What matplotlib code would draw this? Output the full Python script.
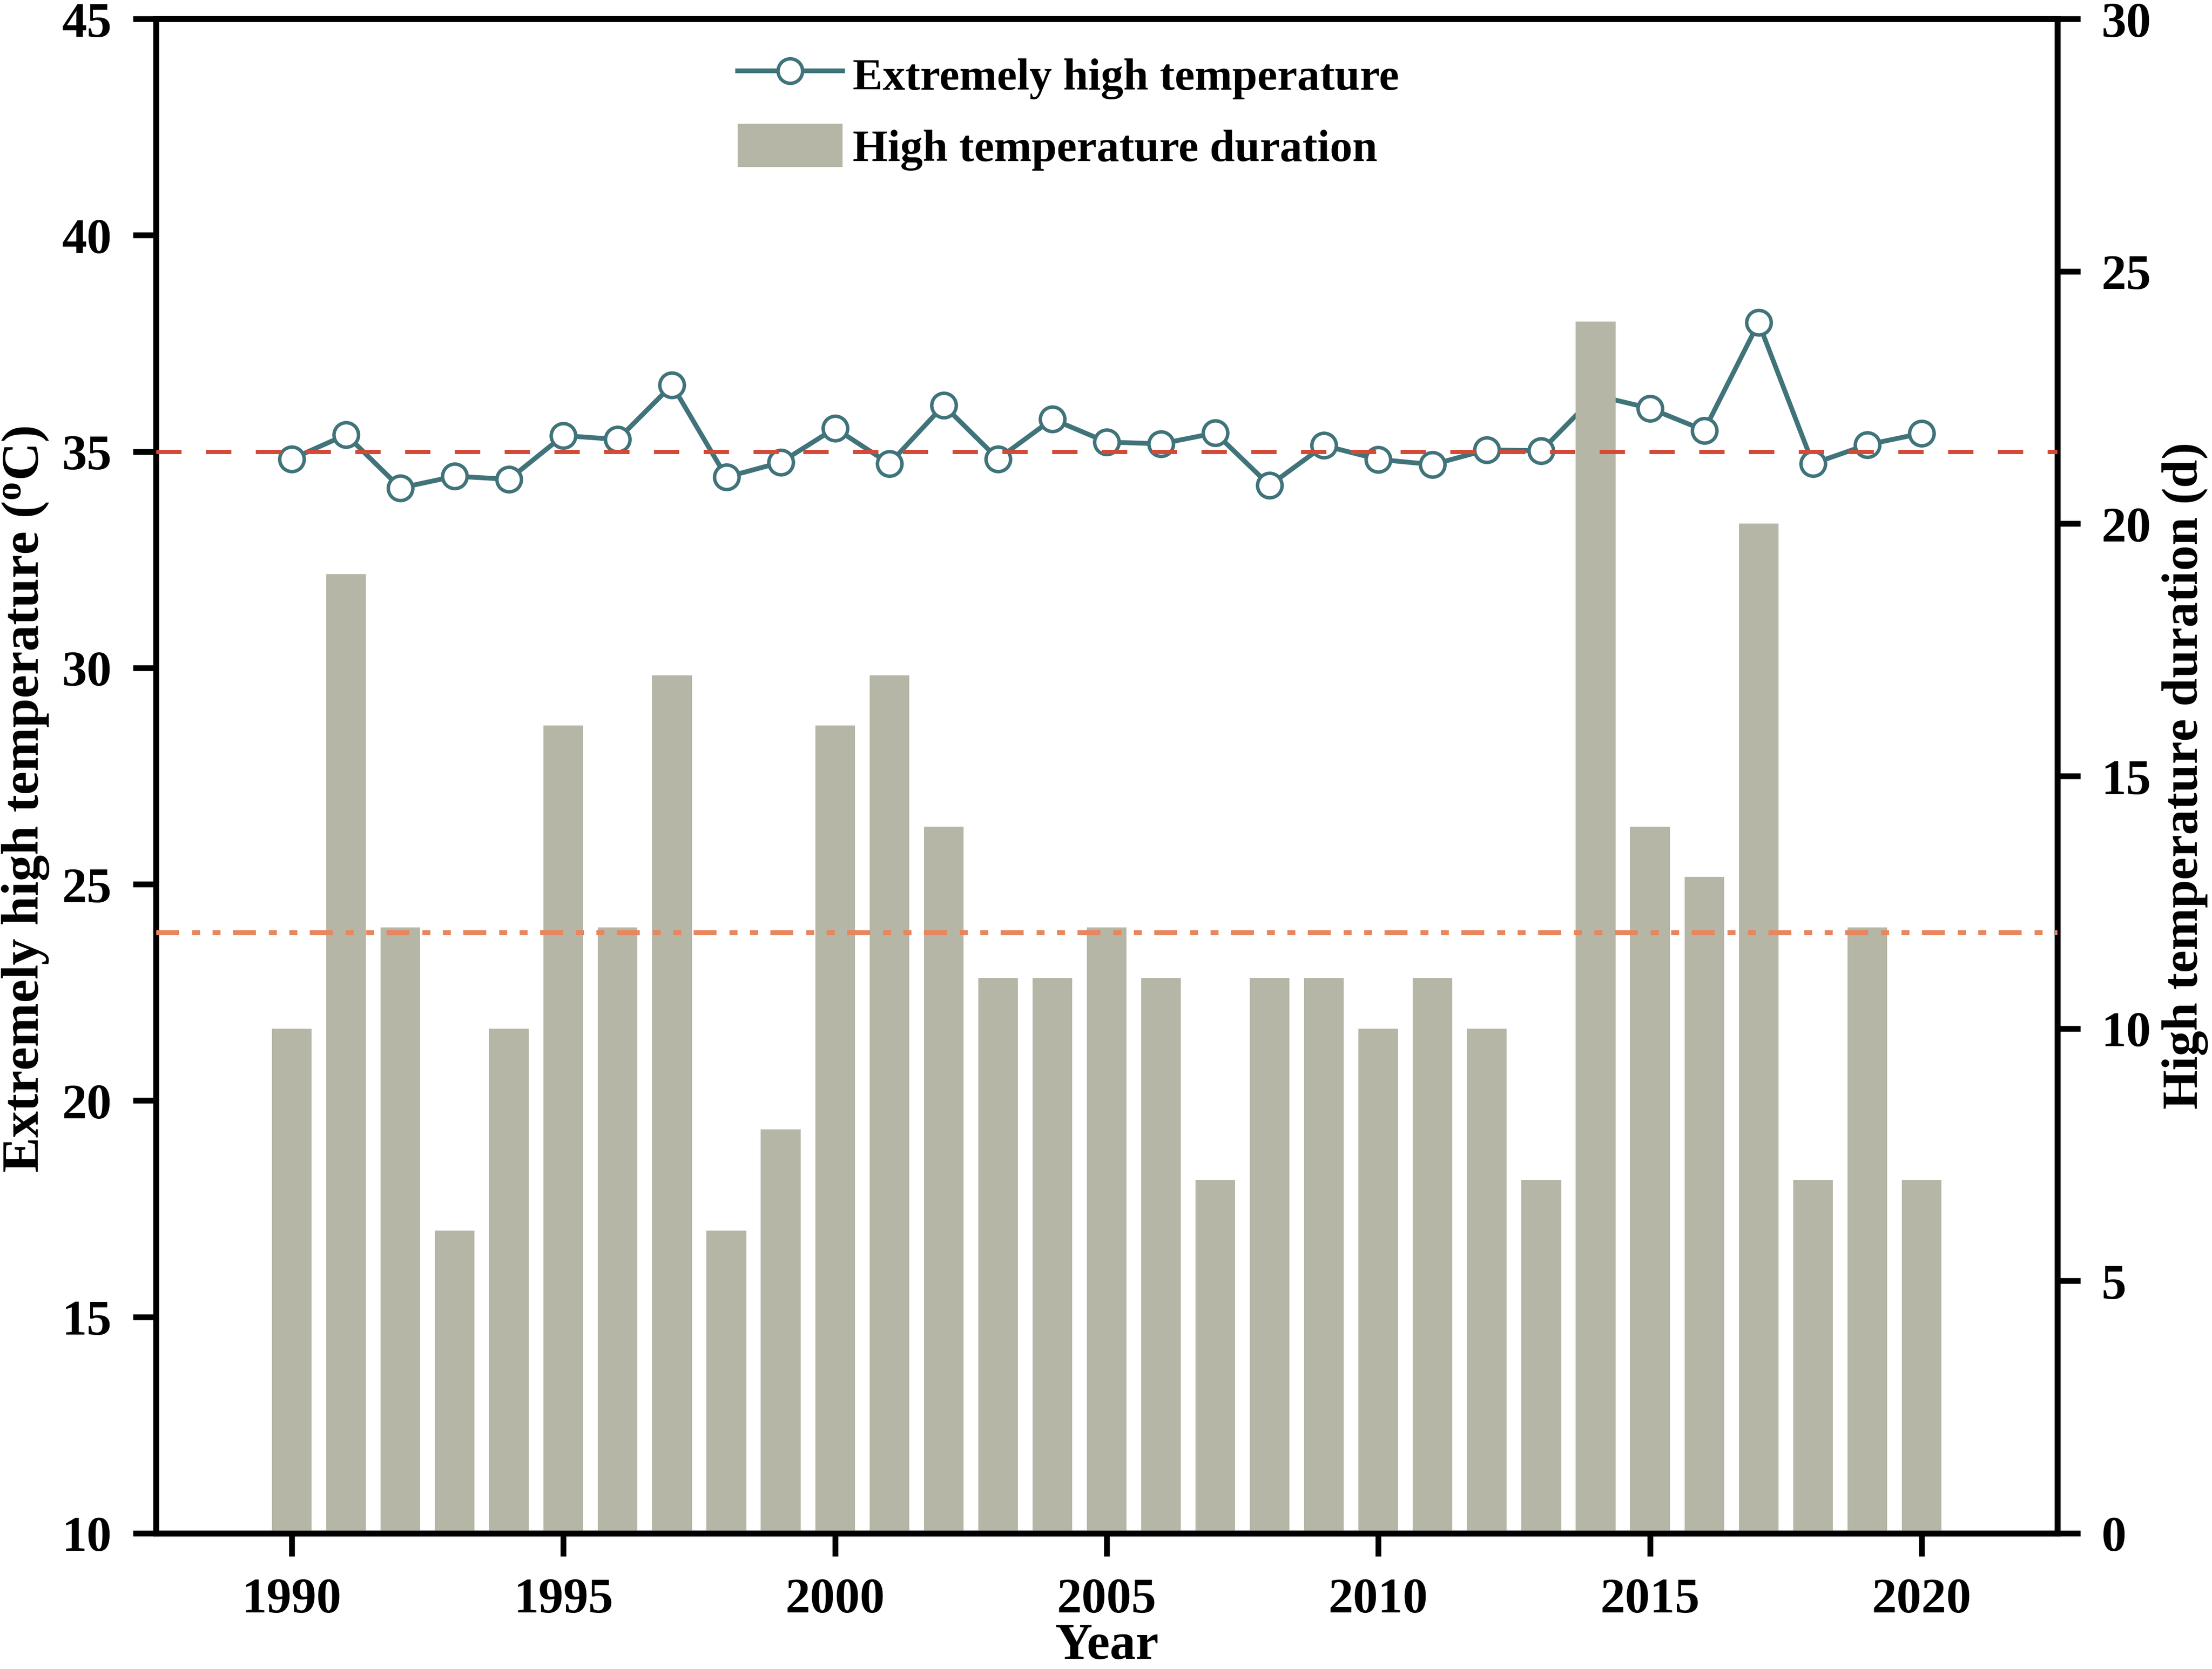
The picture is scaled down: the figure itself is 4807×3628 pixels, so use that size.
import matplotlib
matplotlib.use('Agg')
import matplotlib.pyplot as plt
import numpy as np

plt.rcParams['font.family'] = ['Liberation Serif', 'DejaVu Serif']
plt.rcParams['font.weight'] = 'bold'
plt.rcParams['mathtext.fontset'] = 'custom'
plt.rcParams['mathtext.rm'] = 'Liberation Serif'
plt.rcParams['mathtext.it'] = 'Liberation Serif:italic'

# data
years = list(range(1990, 2021))
max_temp = [34.83, 35.39, 34.16, 34.43, 34.36, 35.37, 35.28, 36.54, 34.41, 34.75,
            35.54, 34.72, 36.07, 34.83, 35.75, 35.22, 35.18, 35.43, 34.22, 35.14,
            34.82, 34.70, 35.04, 35.02, 36.30, 36.00, 35.49, 37.98, 34.72, 35.16,
            35.42]
duration = [10, 19, 12, 6, 10, 16, 12, 17, 6, 8,
            16, 17, 14, 11, 11, 12, 11, 7, 11, 11,
            10, 11, 10, 7, 24, 14, 13, 20, 7, 12,
            7]
temp_threshold = 35.0
duration_ref = 11.9

line_color = '#40737A'
bar_color = '#B5B6A5'
red = '#D34A37'
orange = '#E8865E'

fig = plt.figure(figsize=(4807 / 300, 3629 / 300), dpi=300)
ax1 = fig.add_axes([0.0705, 0.0813, 0.9301 - 0.0705, 0.9884 - 0.0813])
ax2 = ax1.twinx()

# temperature line (left axis, drawn below the bars)
ln, = ax1.plot(years, max_temp, color=line_color, lw=2.5, marker='o', ms=12.8,
               mfc='white', mec=line_color, mew=1.8, label='Extremely high temperature')

# duration bars (right axis)
bars = ax2.bar(years, duration, width=0.73, color=bar_color, zorder=1,
               label='High temperature duration')

# reference lines on top of the bars
ax2.plot([0, 1], [temp_threshold, temp_threshold], transform=ax1.get_yaxis_transform(),
         color=red, lw=2.2, dashes=(6, 5.8), zorder=3, scalex=False, scaley=False)
ax2.axhline(duration_ref, color=orange, lw=2.6, dashes=(4.6, 2.6, 1.6, 2.5, 1.6, 2.5),
            zorder=3)

ax1.set_xlim(1987.5, 2022.5)
ax1.set_ylim(10, 45)
ax2.set_ylim(0, 30)
ax1.set_xticks(range(1990, 2021, 5))
ax1.set_yticks(range(10, 46, 5))
ax2.set_yticks(range(0, 31, 5))

for ax in (ax1, ax2):
    for sp in ax.spines.values():
        sp.set_linewidth(3)
    ax.tick_params(direction='out', length=12, width=3, labelsize=26, pad=11)

ax1.set_xlabel('Year', fontsize=27, fontweight='bold', labelpad=0)
ax1.set_ylabel(r'Extremely high temperature $\mathrm{(^{o}C)}$', fontsize=27.5,
               fontweight='bold', labelpad=6)
ax1.yaxis.label.set_y(0.485)
ax2.set_ylabel(r'High temperature duration $\mathrm{(d)}$', fontsize=26.5,
               fontweight='bold', labelpad=5)

ax2.legend([ln, bars], ['Extremely high temperature', 'High temperature duration'],
           loc='center left', bbox_to_anchor=(0.3335, 0.933), bbox_transform=fig.transFigure,
           frameon=False, handlelength=2.33, handleheight=1.1,
           handletextpad=0.22, labelspacing=0.55, borderpad=0, borderaxespad=0,
           prop={'weight': 'bold', 'size': 23.5})

fig.savefig('out.png', dpi=300)
